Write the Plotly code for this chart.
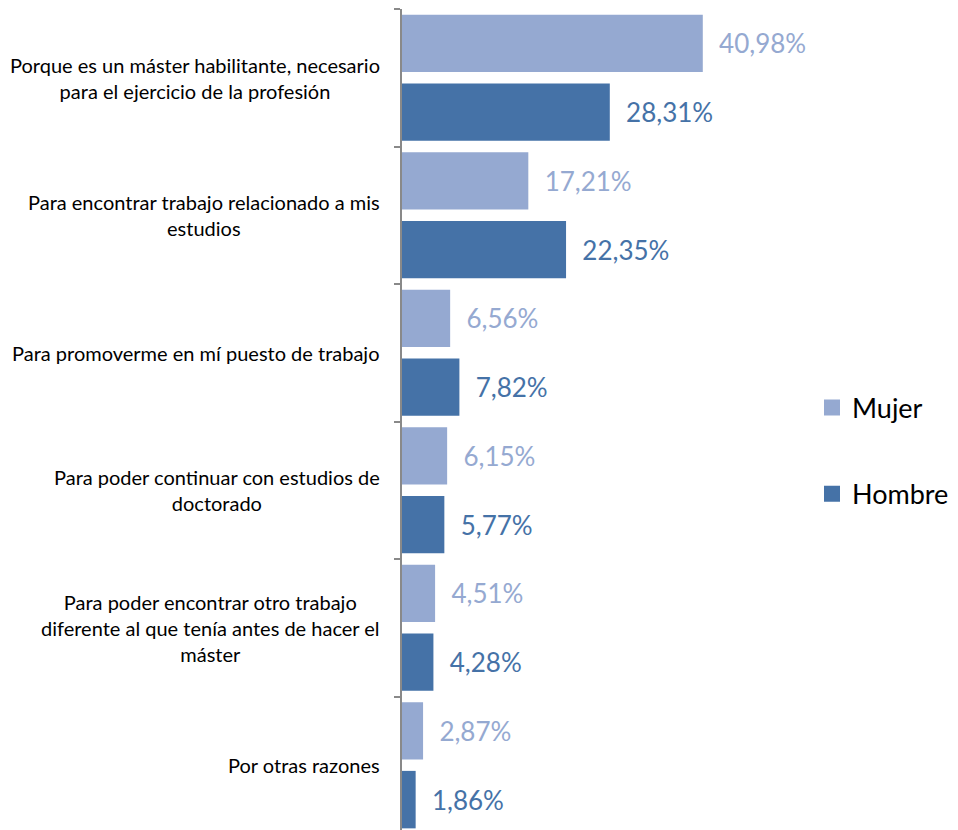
import plotly.graph_objects as go

categories = [
    "Porque es un máster habilitante, necesario<br>para el ejercicio de la profesión",
    "Para encontrar trabajo relacionado a mis<br>estudios",
    "Para promoverme en mí puesto de trabajo",
    "Para poder continuar con estudios de<br>doctorado",
    "Para poder encontrar otro trabajo<br>diferente al que tenía antes de hacer el<br>máster",
    "Por otras razones",
]
mujer = [40.98, 17.21, 6.56, 6.15, 4.51, 2.87]
hombre = [28.31, 22.35, 7.82, 5.77, 4.28, 1.86]
series_names = ["Mujer", "Hombre"]

C_MUJER = "#95A9D1"
C_HOMBRE = "#4572A7"
FONT = "Lato"

W, H = 958, 830
# page body has an 8px margin: positions below are in figure coordinates
plot_left, plot_right = 394, 792
plot_top = 1
px_per_pct = 7.34
x_max = (plot_right - plot_left) / px_per_pct
cat_px = 137.5
n_visible = (H - plot_top) / cat_px

fig = go.Figure()
for name, vals, col in [(series_names[0], mujer, C_MUJER), (series_names[1], hombre, C_HOMBRE)]:
    fig.add_trace(go.Bar(
        y=categories, x=vals, orientation="h", name=name,
        marker=dict(color=col, line=dict(width=0)),
        texttemplate="\u00a0\u00a0%{x:.2f}%", textposition="outside",
        textfont=dict(color=col, size=26, family=FONT),
        constraintext="none", cliponaxis=False, showlegend=False,
    ))
for i, (name, col) in enumerate([(series_names[0], C_MUJER), (series_names[1], C_HOMBRE)]):
    fig.add_trace(go.Scatter(
        x=[None], y=[None], mode="markers", name=name, legendgroup=f"g{i}",
        marker=dict(symbol="square", size=17, color=col), showlegend=True,
    ))

for c in categories:
    fig.add_annotation(x=0, xref="x", y=c, yref="y", text=c, showarrow=False,
                       xanchor="right", yanchor="middle", align="center", xshift=-20,
                       font=dict(size=20, color="black", family=FONT))

fig.update_layout(
    width=W, height=H,
    margin=dict(l=plot_left, r=W - plot_right, t=plot_top, b=0),
    plot_bgcolor="white", paper_bgcolor="white",
    barmode="group", bargap=0.0, bargroupgap=0.164,
    separators=",.",
    font=dict(family=FONT),
    legend=dict(x=(804 - plot_left) / (plot_right - plot_left), xanchor="left",
                y=1 - (451 - 8 - plot_top) / (H - plot_top), yanchor="middle",
                tracegroupgap=48,
                font=dict(size=27, color="black", family=FONT), itemwidth=30,
                bgcolor="rgba(0,0,0,0)"),
    xaxis=dict(range=[0, x_max], visible=False, showgrid=False, zeroline=False),
    yaxis=dict(type="category", range=[n_visible - 0.5, -0.5], showticklabels=False,
               showline=True, linecolor="#898989", linewidth=1.5,
               ticks="outside", ticklen=6, tickcolor="#898989", tickwidth=1.5,
               tickson="boundaries", showgrid=False, zeroline=False),
)

fig.write_html("out.html")
